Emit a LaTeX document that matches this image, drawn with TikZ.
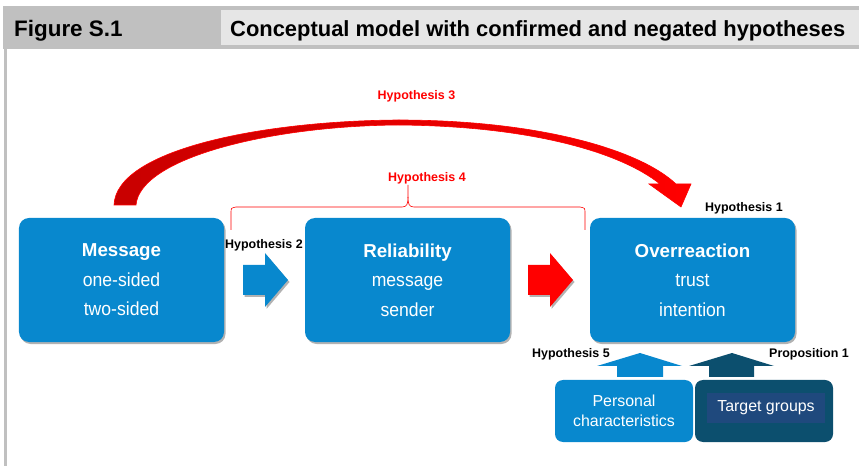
\documentclass[tikz,border=0pt]{standalone}
\usepackage{fontspec}
\setmainfont{Liberation Sans}
\newfontfamily\narrowfont{Liberation Sans}[FakeStretch=0.93]
\usetikzlibrary{shadows}
\definecolor{boxblue}{RGB}{8,136,206}
\definecolor{darkteal}{RGB}{12,79,110}
\definecolor{innerblue}{RGB}{31,73,125}
\definecolor{hdrgray}{RGB}{192,192,192}
\definecolor{hdrlight}{RGB}{230,230,230}
\definecolor{hred}{RGB}{255,0,0}
\definecolor{darkred}{RGB}{200,0,0}
\tikzset{
  bigbox/.style={fill=boxblue, rounded corners=10bp, minimum width=205bp, minimum height=124bp,
    inner sep=0pt, text=white, align=center,
    font=\fontsize{19}{29.5}\selectfont,
    drop shadow={shadow xshift=1.5bp, shadow yshift=-2bp, opacity=0.3, fill=black}},
  smallbox/.style={rounded corners=8bp, minimum width=138bp, minimum height=62bp,
    inner sep=0pt, text=white, align=center, font=\fontsize{16}{19.5}\selectfont},
  hlabel/.style={font=\bfseries\fontsize{12.5}{14}\selectfont, inner sep=0pt, anchor=base},
  blockshadow/.style={drop shadow={shadow xshift=1.5bp, shadow yshift=-2bp, opacity=0.3, fill=black}},
}
\newcommand{\btitle}[1]{{\bfseries\fontsize{18.8}{29.5}\selectfont #1}}
\begin{document}
\begin{tikzpicture}[x=1bp,y=-1bp]
\useasboundingbox (0,0) rectangle (859,466);
% header
\fill[hdrgray] (3,6) rectangle (859,49);
\fill[hdrlight] (221,10) rectangle (859,45);
\fill[hdrgray] (4,49) rectangle (7,466);
\node[anchor=base west, inner sep=0pt, font=\bfseries\fontsize{22.5}{26}\selectfont] (fig) at (14,37) {Figure S.1};
\node[anchor=base west, inner sep=0pt, font=\bfseries\fontsize{22}{26}\selectfont] (title) at (230,37) {Conceptual model with confirmed and negated hypotheses};

% main boxes
\node[bigbox] (msg) at (121.5,280) {\btitle{Message}\\ \narrowfont one-sided\\ \narrowfont two-sided};
\node[bigbox] (rel) at (407.5,280) {\btitle{Reliability}\\ \narrowfont message\\ \narrowfont sender};
\node[bigbox] (ovr) at (692.5,280) {\btitle{Overreaction}\\ \narrowfont trust\\ \narrowfont intention};

% bottom boxes
\node[smallbox, fill=boxblue] (pers) at (624,411) {Personal\\characteristics};
\node[smallbox, fill=darkteal] (tgt) at (764,411) {};
\node[fill=innerblue, minimum width=118bp, minimum height=30bp, inner sep=0pt, text=white,
  font=\fontsize{16}{19}\selectfont] (tgtin) at (766,408) {Target groups};

% block arrows right
\fill[boxblue, blockshadow] (243,265) -- (265,265) -- (265,253) -- (288,280) -- (265,307) -- (265,295) -- (243,295) -- cycle;
\fill[hred, blockshadow] (528,265) -- (550,265) -- (550,253) -- (573,280) -- (550,307) -- (550,295) -- (528,295) -- cycle;

% up arrows
\fill[boxblue] (617,377) -- (617,366) -- (597,366) -- (640,353) -- (682,366) -- (663,366) -- (663,377) -- cycle;
\fill[darkteal] (709,377) -- (709,366) -- (689,366) -- (732,353) -- (774,366) -- (754,366) -- (754,377) -- cycle;

% big curved arrow (Hypothesis 3)
\path[left color=darkred, middle color=hred, right color=hred, draw=hred, line width=0.6bp]
  (114,205) .. controls (116,150) and (260,121) .. (398,120)
  .. controls (540,120) and (640,150) .. (676,184)
  -- (691,184) -- (681,207) -- (649,184) -- (660,184)
  .. controls (620,152) and (530,126) .. (398,125)
  .. controls (270,126) and (140,158) .. (136,205) -- cycle;

% brace (Hypothesis 4)
\draw[hred, line width=0.6bp]
  (231,230) -- (231,213) .. controls (231,208) .. (236,207) -- (402,207)
  .. controls (407,207) and (408,204) .. (408,197) -- (408,185);
\draw[hred, line width=0.6bp]
  (585,230) -- (585,213) .. controls (585,208) .. (580,207) -- (414,207)
  .. controls (409,207) and (408,204) .. (408,197);

% labels
\node[hlabel, text=hred] (h3) at (416.5,100) {Hypothesis 3};
\node[hlabel, text=hred] (h4) at (427,182) {Hypothesis 4};
\node[hlabel, anchor=base west] (h1) at (705,212) {Hypothesis 1};
\node[hlabel, anchor=base west] (h2) at (225,249) {Hypothesis 2};
\node[hlabel, anchor=base west] (h5) at (532,358) {Hypothesis 5};
\node[hlabel, anchor=base west] (p1) at (769,358) {Proposition 1};
\end{tikzpicture}
\end{document}
